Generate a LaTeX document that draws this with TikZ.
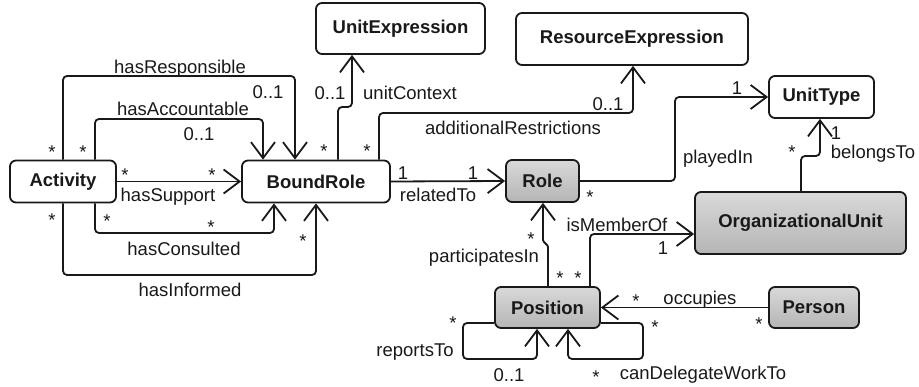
\documentclass[tikz,border=0pt]{standalone}
\usepackage{fontspec}
\setmainfont{Liberation Sans}
\usetikzlibrary{arrows.meta}
\tikzset{
  cls/.style={draw=black!90, line width=1.8pt, rounded corners=6pt, inner sep=0pt,
    font=\fontsize{18.5}{22}\selectfont\bfseries, text=black!90},
  plain/.style={cls, fill=white},
  gray/.style={cls, top color=black!15, bottom color=black!29},
  assoc/.style={draw=black!90, line width=1.8pt, rounded corners=4pt,
    -{Straight Barb[length=16pt,width=24pt]}},
  lbl/.style={inner sep=0pt, font=\fontsize{18.5}{22}\selectfont, text=black!90,
    text height=13.3pt, text depth=0pt},
}
\begin{document}
\begin{tikzpicture}[x=1pt,y=-1pt]
\useasboundingbox (0,0) rectangle (919,387);
% classes
\node[plain, minimum width=106pt, minimum height=42pt] (act) at (63,181.5) {Activity};
\node[plain, minimum width=148pt, minimum height=42pt] (bound) at (316,181.5) {BoundRole};
\node[plain, minimum width=169pt, minimum height=51pt] (uexp) at (400.5,28.5) {UnitExpression};
\node[plain, minimum width=232pt, minimum height=52pt] (rexp) at (632,39) {ResourceExpression};
\node[gray, minimum width=73pt, minimum height=42pt] (role) at (542.5,181) {Role};
\node[plain, minimum width=105pt, minimum height=42pt] (utype) at (821.5,97) {UnitType};
\node[gray, minimum width=211pt, minimum height=62pt] (org) at (800.5,223) {OrganizationalUnit};
\node[gray, minimum width=105pt, minimum height=41pt] (pos) at (547.5,307.5) {Position};
\node[gray, minimum width=90pt, minimum height=41pt] (person) at (814,307.5) {Person};
% corner coordinates
\coordinate (c1) at (295,76);
\coordinate (c2a) at (95,119); \coordinate (c2b) at (263,119);
\coordinate (c4a) at (95,233); \coordinate (c4b) at (274,233);
\coordinate (c5a) at (63,275); \coordinate (c5b) at (316,275);
\coordinate (c6a) at (338,107); \coordinate (c6b) at (352,107);
\coordinate (c7a) at (379,113); \coordinate (c7b) at (633,113);
\coordinate (c9a) at (675,181); \coordinate (c9b) at (675,97);
\coordinate (c10a) at (801,156); \coordinate (c10b) at (820,156);
\coordinate (c11a) at (548,246); \coordinate (c11b) at (543,241);
\coordinate (c12) at (590,234);
\coordinate (c14a) at (463,323); \coordinate (c14b) at (463,359); \coordinate (c14c) at (537,359);
\coordinate (c15a) at (643,323); \coordinate (c15b) at (643,359); \coordinate (c15c) at (568,359);
% connectors
\draw[assoc] (act.north) |- (c1) -- (c1 |- bound.north);
\draw[assoc] (c2a |- act.north) -- (c2a) -- (c2b) -- (c2b |- bound.north);
\draw[assoc] (act.east) -- (bound.west);
\draw[assoc] (c4a |- act.south) -- (c4a) -- (c4b) -- (c4b |- bound.south);
\draw[assoc] (act.south) -- (c5a) -- (c5b) -- (bound.south);
\draw[assoc] (c6a |- bound.north) -- (c6a) -- (c6b) -- (c6b |- uexp.south);
\draw[assoc] (c7a |- bound.north) -- (c7a) -- (c7b) -- (c7b |- rexp.south);
\draw[assoc] (bound.east) -- (role.west);
\draw[assoc] (role.east) -- (c9a) -- (c9b) -- (utype.west);
\draw[assoc] (c10a |- org.north) -- (c10a) -- (c10b) -- (c10b |- utype.south);
\draw[assoc, rounded corners=1pt] (c11a |- pos.north) -- (c11a) -- (c11b) -- (c11b |- role.south);
\draw[assoc] (c12 |- pos.north) -- (c12) -- (c12 -| org.west);
\draw[assoc] (person.west) -- (pos.east);
\draw[assoc] (c14a -| pos.west) -- (c14a) -- (c14b) -- (c14c) -- (c14c |- pos.south);
\draw[assoc] (c15a -| pos.east) -- (c15a) -- (c15b) -- (c15c) -- (c15c |- pos.south);
% labels
\node[lbl] (l1) at (180,67) {hasResponsible};
\node[lbl] (l1m) at (268,92) {0..1};
\node[lbl] (l1s) at (52,152) {*};
\node[lbl] (l2) at (183,109) {hasAccountable};
\node[lbl] (l2m) at (199,134) {0..1};
\node[lbl] (l2s) at (83,152) {*};
\node[lbl] (l3) at (168,195) {hasSupport};
\node[lbl] (l3s) at (125,175) {*};
\node[lbl] (l3t) at (212,175) {*};
\node[lbl] (l4) at (184,249) {hasConsulted};
\node[lbl] (l4s) at (107,221) {*};
\node[lbl] (l4t) at (211,227) {*};
\node[lbl] (l5) at (190,290) {hasInformed};
\node[lbl] (l5s) at (52,220) {*};
\node[lbl] (l5t) at (303,241) {*};
\node[lbl] (l6) at (410,93) {unitContext};
\node[lbl] (l6m) at (330,93) {0..1};
\node[lbl] (l6s) at (324,151) {*};
\node[lbl] (l7) at (513,128) {additionalRestrictions};
\node[lbl] (l7m) at (608,104) {0..1};
\node[lbl] (l7s) at (367,151) {*};
\node[lbl] (l8) at (438,195) {relatedTo};
\node[lbl] (l8a) at (403,173) {1};
\node[lbl] (l8b) at (473,173) {1};
\node[lbl] (l9) at (718,157) {playedIn};
\node[lbl] (l9m) at (737,88) {1};
\node[lbl] (l9s) at (590,197) {*};
\node[lbl] (l10) at (873,152) {belongsTo};
\node[lbl] (l10m) at (836,133) {1};
\node[lbl] (l10s) at (792,152) {*};
\node[lbl] (l11) at (484,256) {participatesIn};
\node[lbl] (l11s) at (531,239) {*};
\node[lbl] (l11t) at (560,278) {*};
\node[lbl] (l12) at (617,225) {isMemberOf};
\node[lbl] (l12m) at (663,248) {1};
\node[lbl] (l12s) at (578,278) {*};
\node[lbl] (l13) at (700,298) {occupies};
\node[lbl] (l13s) at (636,301) {*};
\node[lbl] (l13t) at (759,324) {*};
\node[lbl] (l14) at (415,350) {reportsTo};
\node[lbl] (l14s) at (453,323) {*};
\node[lbl] (l14m) at (509,375) {0..1};
\node[lbl] (l15) at (703,373) {canDelegateWorkTo};
\node[lbl] (l15s) at (655,327) {*};
\node[lbl] (l15t) at (596,377) {*};
\end{tikzpicture}
\end{document}
